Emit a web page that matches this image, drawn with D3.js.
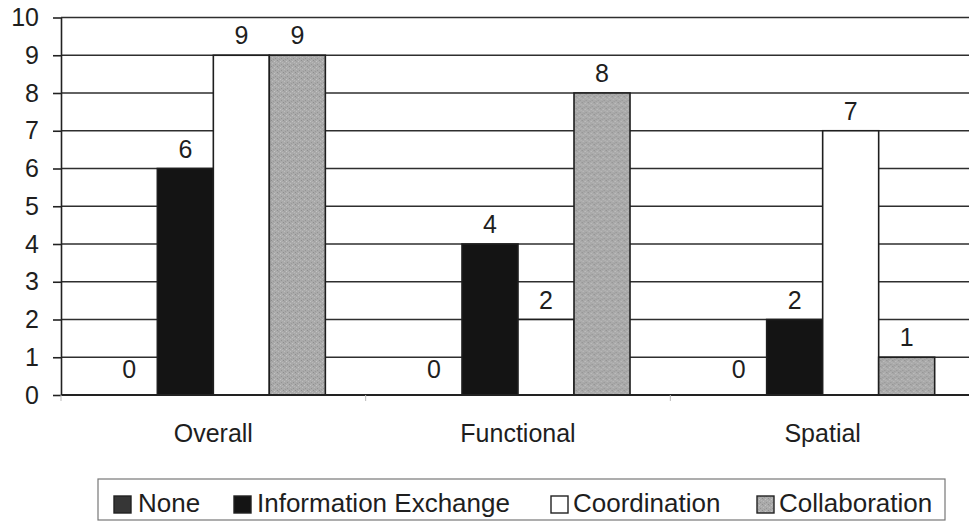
<!DOCTYPE html>
<html>
<head>
<meta charset="utf-8">
<script src="https://cdn.jsdelivr.net/npm/d3@7"></script>
<style>
  html, body { margin: 0; padding: 0; background: #fff; }
  svg text { font-family: "Liberation Sans", Arial, Helvetica, sans-serif; fill: #1e1e1e; }
</style>
</head>
<body>
<svg id="chart" width="969" height="524"></svg>
<script>
// Categories and series
const categories = ["Overall", "Functional", "Spatial"];
const seriesNames = ["None", "Information Exchange", "Coordination", "Collaboration"];

// Series values, one per category
const noneValues = [0, 0, 0];
const infoExchangeValues = [6, 4, 2];
const coordinationValues = [9, 2, 7];
const collaborationValues = [9, 8, 1];

// Y axis tick values
const yTickValues = [0, 1, 2, 3, 4, 5, 6, 7, 8, 9, 10];

const seriesValues = [noneValues, infoExchangeValues, coordinationValues, collaborationValues];

const svg = d3.select("#chart");

// Texture for the Collaboration fill
const defs = svg.append("defs");
const pat = defs.append("pattern")
  .attr("id", "stipple")
  .attr("width", 6).attr("height", 6)
  .attr("patternUnits", "userSpaceOnUse");
pat.append("rect").attr("width", 6).attr("height", 6).attr("fill", "#aaaaaa");
const specks = [[0,0,"#8e8e8e"],[3,1,"#c4c4c4"],[1,3,"#bdbdbd"],[4,4,"#939393"],[2,5,"#9a9a9a"],[5,2,"#b8b8b8"],[1,1,"#9f9f9f"],[4,0,"#b3b3b3"]];
specks.forEach(([x, y, c]) => pat.append("rect").attr("x", x).attr("y", y).attr("width", 1).attr("height", 1).attr("fill", c));

const fills = ["#363636", "#141414", "#ffffff", "url(#stipple)"];

const plotLeft = 61, plotRight = 975, plotBottom = 395, plotTop = 17.5;
const fontSize = 25;

const x0 = d3.scaleBand().domain(categories).range([plotLeft, plotRight]).paddingInner(0).paddingOuter(0);
const x1 = d3.scaleBand().domain(seriesNames).range([0, x0.bandwidth()]).paddingInner(0).paddingOuter(0.72);
const y = d3.scaleLinear().domain([0, 10]).range([plotBottom, plotTop]);

// Horizontal gridlines
svg.append("g")
  .selectAll("line")
  .data(yTickValues.filter(v => v > 0))
  .join("line")
  .attr("x1", plotLeft).attr("x2", 969)
  .attr("y1", d => y(d)).attr("y2", d => y(d))
  .attr("stroke", "#2e2e2e").attr("stroke-width", 1.6);

// Bars
const groups = svg.append("g")
  .selectAll("g")
  .data(categories)
  .join("g")
  .attr("transform", d => `translate(${x0(d)},0)`);

groups.selectAll("rect")
  .data((c, ci) => seriesNames.map((s, si) => ({ s, si, v: seriesValues[si][ci] })))
  .join("rect")
  .filter(d => d.v > 0)
  .attr("x", d => x1(d.s))
  .attr("y", d => y(d.v))
  .attr("width", x1.bandwidth())
  .attr("height", d => y(0) - y(d.v))
  .attr("fill", d => fills[d.si])
  .attr("stroke", "#1e1e1e")
  .attr("stroke-width", 1.6);

// Value labels
groups.selectAll("text")
  .data((c, ci) => seriesNames.map((s, si) => ({ s, si, v: seriesValues[si][ci] })))
  .join("text")
  .attr("x", d => x1(d.s) + x1.bandwidth() / 2)
  .attr("y", d => y(d.v) - (d.v === 0 ? 17 : 11))
  .attr("text-anchor", "middle")
  .attr("font-size", fontSize)
  .text(d => d.v);

// Y axis
const yAxis = d3.axisLeft(y).tickValues(yTickValues).tickSize(8).tickPadding(14).tickSizeOuter(0);
const yG = svg.append("g").attr("transform", `translate(${plotLeft},0)`).call(yAxis);
yG.select(".domain").attr("stroke", "#222").attr("stroke-width", 1.6);
yG.selectAll(".tick line").attr("stroke", "#222").attr("stroke-width", 1.6);
yG.selectAll(".tick text").attr("font-size", fontSize).attr("fill", "#1e1e1e")
  .attr("font-family", "Liberation Sans, Arial, sans-serif");

// X axis baseline and category labels
const xAxis = d3.axisBottom(x0).tickSize(0).tickPadding(29).tickSizeOuter(0);
const xG = svg.append("g").attr("transform", `translate(0,${plotBottom})`).call(xAxis);
xG.select(".domain").attr("stroke", "#222").attr("stroke-width", 1.8).attr("d", `M${plotLeft},0H969`);
xG.selectAll(".tick text").attr("font-size", fontSize).attr("fill", "#1e1e1e")
  .attr("font-family", "Liberation Sans, Arial, sans-serif");

// Faint category separators below the baseline
svg.append("g")
  .selectAll("line")
  .data(categories)
  .join("line")
  .attr("x1", d => x0(d)).attr("x2", d => x0(d))
  .attr("y1", plotBottom).attr("y2", plotBottom + 6)
  .attr("stroke", "#bbb").attr("stroke-width", 1);

// Legend
const legend = svg.append("g");
legend.append("rect")
  .attr("x", 98).attr("y", 479).attr("width", 847).attr("height", 41)
  .attr("fill", "#fff").attr("stroke", "#777").attr("stroke-width", 1.2);

const legendItems = [
  { name: seriesNames[0], sx: 114, tx: 138 },
  { name: seriesNames[1], sx: 234, tx: 257 },
  { name: seriesNames[2], sx: 551, tx: 573 },
  { name: seriesNames[3], sx: 757, tx: 779 }
];
legendItems.forEach((it, i) => {
  legend.append("rect")
    .attr("x", it.sx).attr("y", 496).attr("width", 17).attr("height", 17)
    .attr("fill", fills[i]).attr("stroke", "#222").attr("stroke-width", 1.4);
  legend.append("text")
    .attr("x", it.tx).attr("y", 512)
    .attr("font-size", fontSize + 1)
    .text(it.name);
});
</script>
</body>
</html>
